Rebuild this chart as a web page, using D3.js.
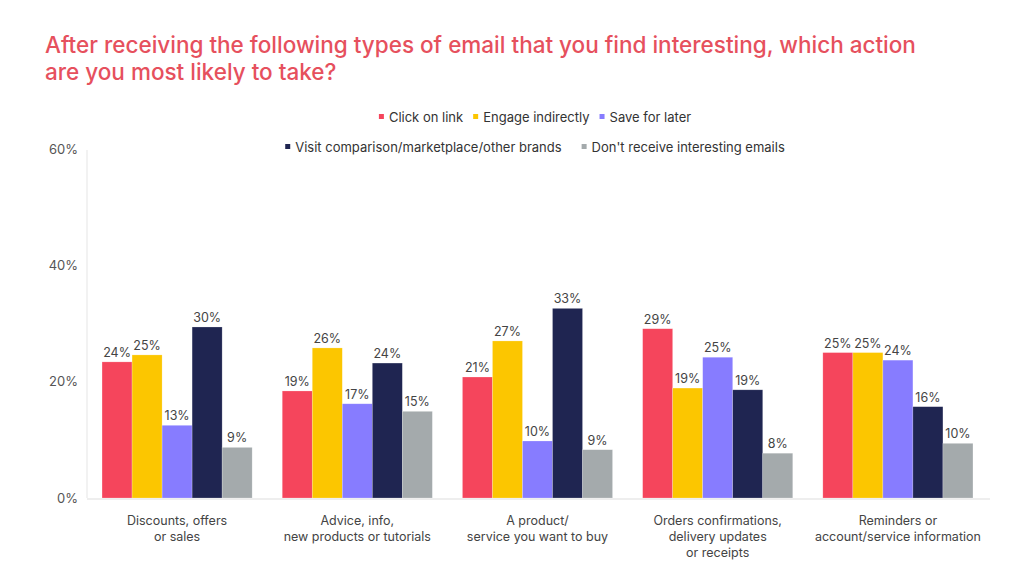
<!DOCTYPE html>
<html><head><meta charset="utf-8">
<script src="https://cdn.jsdelivr.net/npm/d3@7"></script>
<style>body{margin:0;background:#fff;} svg{display:block;}</style>
</head><body>
<svg id="chart" width="1024" height="578"></svg>
<script>
const categories = [
  ["Discounts, offers", "or sales"],
  ["Advice, info,", "new products or tutorials"],
  ["A product/", "service you want to buy"],
  ["Orders confirmations,", "delivery updates", "or receipts"],
  ["Reminders or", "account/service information"]
];
const seriesNames = ["Click on link", "Engage indirectly", "Save for later", "Visit comparison/marketplace/other brands", "Don't receive interesting emails"];
const clickOnLink = [23.4, 18.4, 20.8, 29.1, 25.0];
const engageIndirectly = [24.6, 25.8, 27.0, 18.9, 25.0];
const saveForLater = [12.5, 16.2, 9.8, 24.2, 23.7];
const visitComparison = [29.4, 23.2, 32.6, 18.6, 15.7];
const dontReceive = [8.7, 14.9, 8.3, 7.7, 9.4];
const clickLabels = ["24%", "19%", "21%", "29%", "25%"];
const engageLabels = ["25%", "26%", "27%", "19%", "25%"];
const saveLabels = ["13%", "17%", "10%", "25%", "24%"];
const visitLabels = ["30%", "24%", "33%", "19%", "16%"];
const dontLabels = ["9%", "15%", "9%", "8%", "10%"];
const yTicks = [0, 20, 40, 60];
const colors = ["#F5455C", "#FCC600", "#877CFF", "#1F2551", "#A4AAAC"];

const series = [clickOnLink, engageIndirectly, saveForLater, visitComparison, dontReceive];
const labels = [clickLabels, engageLabels, saveLabels, visitLabels, dontLabels];

const svg = d3.select("#chart");
const FONT = "Inter, 'Noto Sans', sans-serif";

// Title
svg.append("text").attr("x", 45).attr("y", 53)
  .attr("font-family", FONT).attr("font-size", 22.5).attr("font-weight", 500)
  .attr("fill", "#E6505D")
  .selectAll("tspan").data(["After receiving the following types of email that you find interesting, which action", "are you most likely to take?"])
  .join("tspan").attr("x", 45).attr("dy", (d, i) => i ? 27 : 0).text(d => d);

const x0 = d3.scaleBand().domain(d3.range(categories.length)).range([87, 988]).paddingInner(0.167).paddingOuter(0.0835);
const x1 = d3.scaleBand().domain(d3.range(series.length)).range([0, x0.bandwidth()]);
const y = d3.scaleLinear().domain([0, 60]).range([498, 149]);

// axis lines
svg.append("line").attr("x1", 87).attr("x2", 87).attr("y1", y(60) + 1).attr("y2", y(0))
  .attr("stroke", "#eeeeee").attr("stroke-width", 1.5);
svg.append("line").attr("x1", 87).attr("x2", 990).attr("y1", y(0) + 1).attr("y2", y(0) + 1)
  .attr("stroke", "#eeeeee").attr("stroke-width", 2);

// y ticks
const yAxis = d3.axisLeft(y).tickValues(yTicks).tickFormat(d => d + "%").tickSize(0).tickPadding(0);
const ya = svg.append("g").attr("transform", "translate(78,0)").call(yAxis);
ya.select(".domain").remove();
ya.selectAll("text").attr("font-family", FONT).attr("font-size", 13).attr("fill", "#555");

// bars
const groups = svg.append("g").selectAll("g").data(categories).join("g")
  .attr("transform", (d, i) => `translate(${x0(i)},0)`);
groups.each(function(c, ci) {
  const g = d3.select(this);
  series.forEach((s, si) => {
    g.append("rect").attr("x", x1(si)).attr("width", x1.bandwidth())
      .attr("y", y(s[ci])).attr("height", y(0) - y(s[ci]))
      .attr("fill", colors[si]).attr("stroke", "rgba(255,255,255,0.35)").attr("stroke-width", 0.6);
    g.append("text").attr("x", x1(si) + x1.bandwidth() / 2).attr("y", y(s[ci]) - 5)
      .attr("text-anchor", "middle").attr("font-family", FONT).attr("font-size", 12.5)
      .attr("fill", "#444").text(labels[si][ci]);
  });
});

// x labels
const xl = svg.append("g").selectAll("text").data(categories).join("text")
  .attr("text-anchor", "middle").attr("font-family", FONT).attr("font-size", 12.5).attr("fill", "#444")
  .attr("x", (d, i) => x0(i) + x0.bandwidth() / 2).attr("y", 525);
xl.selectAll("tspan").data(d => d).join("tspan")
  .attr("x", function() { return d3.select(this.parentNode).attr("x"); })
  .attr("dy", (d, i) => i ? 16 : 0).text(d => d);

// legend
const rows = [[0, 1, 2], [3, 4]];
const rowY = [117, 147];
const gaps = [10, 20];
rows.forEach((row, ri) => {
  const lg = svg.append("g");
  let cx = 0;
  row.forEach(si => {
    const item = lg.append("g").attr("transform", `translate(${cx},0)`);
    item.append("rect").attr("x", 0).attr("y", rowY[ri] - 3).attr("width", 5).attr("height", 5).attr("fill", colors[si]);
    const t = item.append("text").attr("x", 10).attr("y", rowY[ri] + 4.5)
      .attr("font-family", FONT).attr("font-size", 13).attr("fill", "#333").text(seriesNames[si]);
    cx += 10 + t.node().getComputedTextLength() + gaps[ri];
  });
  const w = cx - gaps[ri];
  lg.attr("transform", `translate(${535 - w / 2},0)`);
});
</script>
</body></html>
